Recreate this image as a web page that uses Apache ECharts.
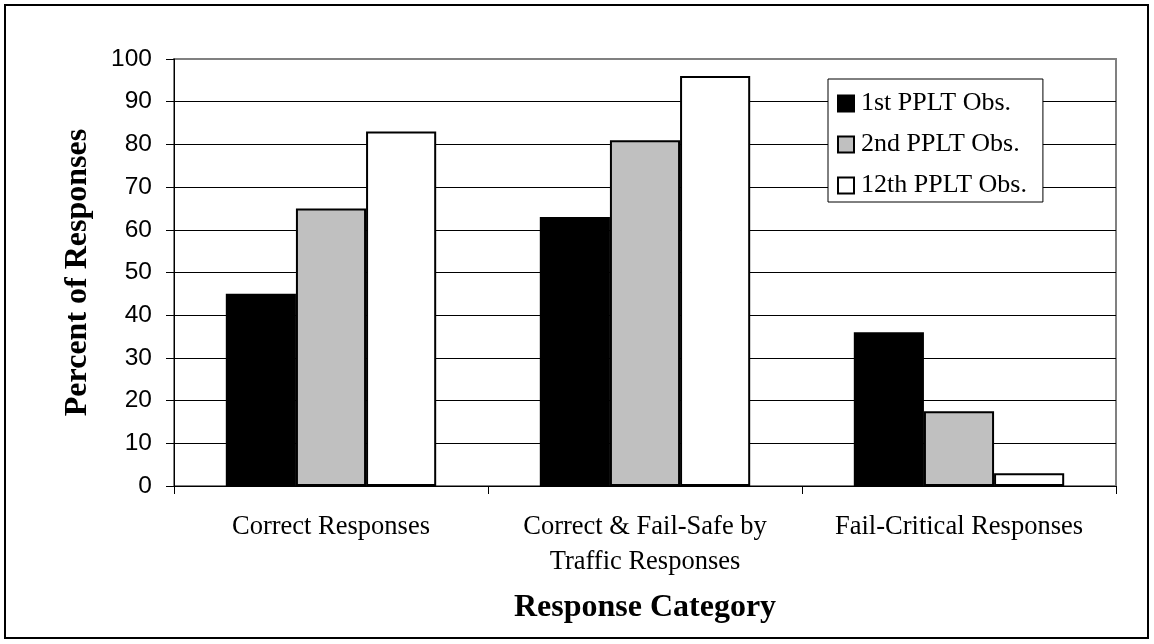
<!DOCTYPE html>
<html><head><meta charset="utf-8">
<script src="https://cdn.jsdelivr.net/npm/echarts@6/dist/echarts.min.js"></script>
<style>html,body{margin:0;padding:0;background:#fff}#c{width:1154px;height:644px}</style>
</head><body><div id="c"></div>
<script>
const categories = ['Correct Responses', 'Correct & Fail-Safe by\nTraffic Responses', 'Fail-Critical Responses'];
const seriesNames = ['1st PPLT Obs.', '2nd PPLT Obs.', '12th PPLT Obs.'];
const obs1 = [45, 63, 36];
const obs2 = [65, 81, 17.5];
const obs12 = [83, 96, 3];
const yTicks = [0, 100, 10];

const colors = ['#000000', '#c0c0c0', '#ffffff'];
const dataSets = [obs1, obs2, obs12];
const chart = echarts.init(document.getElementById('c'), null, {renderer: 'canvas'});
const serif = '"Liberation Serif", "Times New Roman", serif';
const sans = '"Liberation Sans", Arial, sans-serif';
const splitColors = ['#000','#000','#000','#000','#000','#000','#000','#000','#000','#000','#808080'];
chart.setOption({
  animation: false,
  backgroundColor: '#fff',
  graphic: [{type: 'rect', shape: {x: 5, y: 5, width: 1143, height: 633}, style: {fill: 'none', stroke: '#000', lineWidth: 2}, z: -1}],
  grid: {left: 174, right: 38, top: 59, bottom: 158, show: true, borderColor: '#808080', borderWidth: 2, backgroundColor: '#fff'},
  legend: {
    orient: 'vertical', left: 828, top: 79,
    padding: [11, 16, 3, 9], itemGap: 14, itemWidth: 16, itemHeight: 16, icon: 'rect',
    backgroundColor: '#fff', borderColor: '#000', borderWidth: 1,
    textStyle: {fontFamily: serif, fontSize: 26, lineHeight: 27, color: '#000', padding: [0, 0, 0, 2]},
    data: seriesNames
  },
  xAxis: {
    type: 'category', data: categories,
    name: 'Response Category', nameLocation: 'middle', nameGap: 106,
    nameTextStyle: {fontFamily: serif, fontSize: 32, fontWeight: 'bold', color: '#000'},
    axisLine: {lineStyle: {color: '#000', width: 1}},
    axisTick: {show: true, length: 8, lineStyle: {color: '#000'}},
    axisLabel: {fontFamily: serif, fontSize: 26.5, color: '#000', margin: 24, lineHeight: 35, interval: 0}
  },
  yAxis: {
    type: 'value', min: yTicks[0], max: yTicks[1], interval: yTicks[2],
    name: 'Percent of Responses', nameLocation: 'middle', nameGap: 80, nameRotate: 90,
    nameTextStyle: {fontFamily: serif, fontSize: 32, fontWeight: 'bold', color: '#000'},
    axisLine: {show: true, lineStyle: {color: '#000', width: 1}},
    axisTick: {show: true, length: 8, lineStyle: {color: '#000'}},
    axisLabel: {fontFamily: sans, fontSize: 24.5, color: '#000', margin: 22},
    splitLine: {show: true, lineStyle: {color: splitColors, width: 1}}
  },
  series: seriesNames.map((n, i) => ({
    name: n, type: 'bar', data: dataSets[i],
    barGap: '0%', barCategoryGap: '33%',
    itemStyle: {color: colors[i], borderColor: '#000', borderWidth: 2}
  }))
});
</script></body></html>
